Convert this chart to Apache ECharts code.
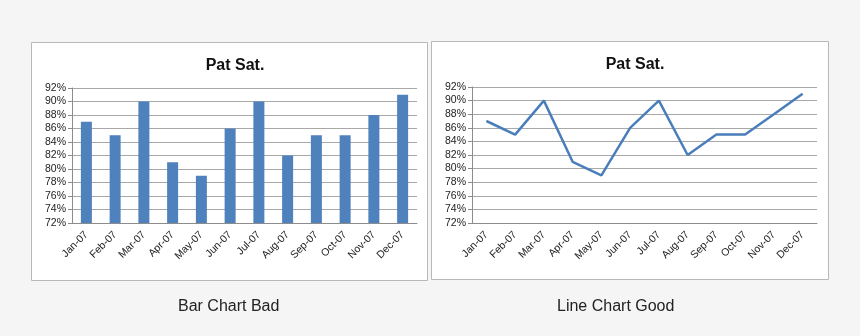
<!DOCTYPE html>
<html><head><meta charset="utf-8">
<script src="https://cdn.jsdelivr.net/npm/echarts@6/dist/echarts.min.js"></script>
<style>html,body{margin:0;padding:0;background:#f5f5f5}#c{width:860px;height:336px}</style>
</head><body><div id="c"></div>
<script>
const categories = ['Jan-07','Feb-07','Mar-07','Apr-07','May-07','Jun-07','Jul-07','Aug-07','Sep-07','Oct-07','Nov-07','Dec-07'];
const patSat = [87, 85, 90, 81, 79, 86, 90, 82, 85, 85, 88, 91];
const chartTitle = 'Pat Sat.';
const captions = ['Bar Chart Bad', 'Line Chart Good'];

const font = '"Liberation Sans", Arial, sans-serif';
const chart = echarts.init(document.getElementById('c'));
function xAxis(i){
  return {type:'category', gridIndex:i, data:categories, boundaryGap:true,
    axisLine:{lineStyle:{color:'#8c8c8c'}},
    axisTick:{length:4, lineStyle:{color:'#8c8c8c'}},
    axisLabel:{rotate:45, fontSize:10.5, color:'#222', fontFamily:font, margin:10, interval:0}};
}
function yAxis(i){
  return {type:'value', gridIndex:i, min:72, max:92, interval:2,
    axisLine:{show:true, lineStyle:{color:'#8c8c8c'}},
    axisTick:{show:true, length:4, lineStyle:{color:'#8c8c8c'}},
    splitLine:{lineStyle:{color:'#a8a8a8'}},
    axisLabel:{formatter:'{value}%', fontSize:10.5, color:'#222', fontFamily:font, margin:6}};
}
chart.setOption({
  backgroundColor:'#f5f5f5',
  animation:false,
  graphic:[
    {type:'rect', shape:{x:31.5,y:42.5,width:396,height:238}, style:{fill:'#fff', stroke:'#b8b8b8', lineWidth:1}, z:-10},
    {type:'rect', shape:{x:431.5,y:41.5,width:397,height:238}, style:{fill:'#fff', stroke:'#b8b8b8', lineWidth:1}, z:-10},
    {type:'text', left:178, top:299, style:{text:captions[0], font:'16px '+font, fill:'#222'}},
    {type:'text', left:557, top:299, style:{text:captions[1], font:'16px '+font, fill:'#222'}}
  ],
  title:[
    {text:chartTitle, left:230, top:53, textAlign:'center', textStyle:{fontSize:16, fontWeight:'bold', color:'#111', fontFamily:font}},
    {text:chartTitle, left:630, top:52, textAlign:'center', textStyle:{fontSize:16, fontWeight:'bold', color:'#111', fontFamily:font}}
  ],
  grid:[
    {left:72, right:443, top:88, bottom:113},
    {left:472, right:43, top:87, bottom:113}
  ],
  xAxis:[xAxis(0), xAxis(1)],
  yAxis:[yAxis(0), yAxis(1)],
  series:[
    {type:'bar', xAxisIndex:0, yAxisIndex:0, data:patSat, barWidth:11, itemStyle:{color:'#4f81bd'}},
    {type:'line', xAxisIndex:1, yAxisIndex:1, data:patSat, showSymbol:false, lineStyle:{color:'#4a7ebb', width:2.5}}
  ]
});
</script></body></html>
